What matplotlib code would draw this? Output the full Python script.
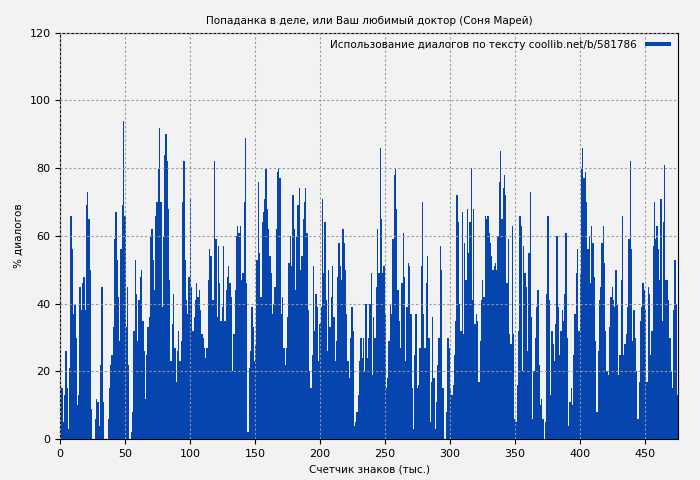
import matplotlib
matplotlib.use("Agg")
import matplotlib.pyplot as plt
import numpy as np

seg1 = [22,15,5,13,26,15,3,21,66,56,37,40,30,10,13,45,38,46,48,38,69,73,65,50,9,0,0,6,12,11,4,22,45,11,0,0,0,
        6,15,22,25,33,59,67,53,42,29,56,69,94,66,33,45,22,0,2,8,32,53,43,29,41,48,50,35,26,12,25,33,36,60,62,53,44,
        66,70,80,92,70,39,60,84,90,82,68,47,23,34,43,27,17,26,32,23,29,70,82,53,41,37,48,71,45,32,36,41,46,42,44,38,
        31,30,27,24,27,47,56,54,41,41,82,59,36,57,46]
seg2 = [35,39,57,35,44,48,51,46,42,20,31,44,60,63,61,63,47,49,70,89,46,2,21,26,39,33,23,28,53,76,55,42,64,67,
        71,80,68,62,54,49,37,40,45,62,79,80,77,37,42,27,22,27,36,52,60,51,72,62,44,60,69,74,50,54,65,70,74,61,38,20,
        15,25,51,32,43,39,23,34,39,71,49,64,41,26,50,33,42,51,36,23,29,48,58,51,47,62,58,50,37,23,18,30,39,32,4,5,8,
        13,23,30,24,30,20,40]
seg3 = [24,30,40,49,19,36,30,45,62,49,86,65,49,51,37,15,18,29,40,37,59,78,80,68,44,35,27,46,61,48,23,39,52,51,37,
        15,3,25,37,15,16,27,51,70,37,27,46,54,30,5,17,36,18,3,11,22,30,57,50,15,0,0,8,30,27,15,13,16,25,35,72,64,40,
        32,67,31,58,47,68,55,64,80,41,68,34,37,35,17,29,41,47,42,66,65,66,61,58,54,50,51,52,50,60,76,85,65,74,78,72,
        46,59,31,28,63,31,6,5,16,32,66,63,20]
seg4 = [57,49,45,26,55,73,36,6,20,30,39,44,22,10,12,6,0,5,43,66,41,13,32,28,23,34,60,39,25,32,38,35,43,61,30,4,
        11,15,10,25,37,49,56,32,49,80,86,77,79,70,56,60,46,63,58,48,29,8,26,41,45,58,63,52,32,20,19,33,42,45,41,39,
        50,40,19,25,47,66,25,28,31,39,59,82,56,29,38,30,20,6,17,35,39,46,44,38,17,45,43,25,32,57,70,59,63,56,47,71,
        35,64,81,47,47,41,30,20,15,38,53,40,13]
values = seg1 + seg2 + seg3 + seg4
n = len(values)
xmax = 476
x = np.arange(n) * xmax / n

fig, ax = plt.subplots(figsize=(7, 4.8), dpi=100)
fig.patch.set_facecolor("#f2f2f2")
ax.set_facecolor("#f2f2f2")
ax.bar(x, values, width=xmax / n, align="edge", color="#0645ad", linewidth=0, zorder=2,
       label="Использование диалогов по тексту coollib.net/b/581786")
ax.set_xlim(0, xmax)
ax.set_ylim(0, 120)
ax.set_xticks(range(0, 451, 50))
ax.set_yticks(range(0, 121, 20))
ax.grid(True, color="#999999", linestyle=(0, (2, 2)), linewidth=0.8, zorder=3)
ax.set_axisbelow(False)
ax.set_title("Попаданка в деле, или Ваш любимый доктор (Соня Марей)", fontsize=7.5)
ax.set_xlabel("Счетчик знаков (тыс.)", fontsize=7.5)
ax.set_ylabel("% диалогов", fontsize=7.5)
ax.tick_params(labelsize=8)
ax.legend(loc="upper right", fontsize=7.5, frameon=False, handlelength=2.5, handleheight=0.3,
          markerfirst=False, borderaxespad=0.3)
plt.subplots_adjust(left=0.086, right=0.969, top=0.932, bottom=0.085)
fig.savefig("out.png")
